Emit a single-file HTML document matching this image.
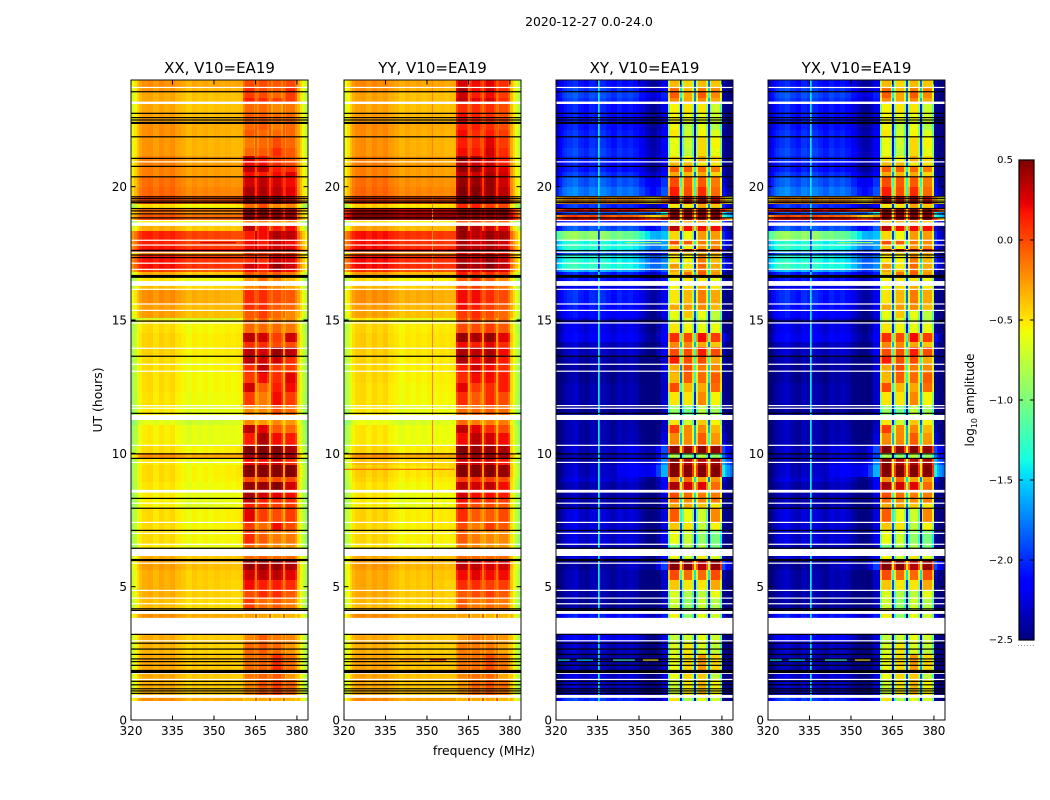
<!DOCTYPE html>
<html>
<head>
<meta charset="utf-8">
<title>2020-12-27 0.0-24.0</title>
<style>
html,body{margin:0;padding:0;background:#fff;}
svg{display:block;font-family:"DejaVu Sans","Liberation Sans",sans-serif;}
</style>
</head>
<body>
<svg id="chart" width="1050" height="800" viewBox="0 0 1050 800" xmlns="http://www.w3.org/2000/svg">
  <text x="589" y="26" font-size="12.4" text-anchor="middle" fill="#000">2020-12-27 0.0-24.0</text>
  <text x="484" y="755" font-size="12.4" text-anchor="middle" fill="#000">frequency (MHz)</text>
  <text transform="translate(102,400) rotate(-90)" font-size="12.4" text-anchor="middle" fill="#000">UT (hours)</text>
  <text transform="translate(974,400) rotate(-90)" font-size="12" text-anchor="middle" fill="#000">log<tspan font-size="8" dy="3">10</tspan><tspan dy="-3"> amplitude</tspan></text>
</svg>
<script>
// Frequency bin edges (MHz): body, then band1 gap band2 gap band3 gap band4, then outer roll-off
const freqEdges = [320,321,322,323,324,326,328,330,332,334,336,338,340,342,344,346,348,350,352,354,356,358,360.5,
  361.1,364.4,365,365.7,366.3,369.2,369.9,370.6,371.2,374.3,374.9,375.6,376.2,379.4,380,381,382,383,384];
const xTickLabels = [320,335,350,365,380];
const yTickLabels = [0,5,10,15,20];
const colorbarTicks = [0.5,0,-0.5,-1,-1.5,-2,-2.5];
// Top of each time row in UT hours; last entry closes the final row
const rowTopHours = [24,23.74,23.55,23.33,23.10,22.73,22.39,22.13,21.86,21.45,21.15,20.93,20.78,20.55,20.36,19.99,19.65,19.35,19.20,19.05,18.94,18.83,18.75,18.53,18.34,18.00,17.81,17.66,17.55,17.44,17.14,16.91,16.80,16.58,16.28,16.13,15.60,15.38,15.08,14.89,14.51,14.18,13.99,13.65,13.35,13.01,12.64,12.30,11.81,11.51,11.25,11.06,10.76,10.31,10.01,9.83,9.56,9.11,8.93,8.63,8.33,8.14,7.95,7.43,7.13,6.60,6.41,6.15,5.96,5.63,5.25,4.84,4.58,4.16,3.98,3.83,3.23,2.89,2.48,1.80,1.50,0.94,0.83,0.71];
// Each row: [left body, mid body, band1, band2, band3, band4, outer] in log10 amplitude
const xxRows = [
[-.30,-.30,0,0,-.05,0,-.30],[-.33,-.33,.10,0,-.05,.10,-.33],[-.38,-.38,.05,0,-.10,.05,-.35],[-.38,-.38,.15,.10,.05,.05,-.35],
[-.38,-.38,-.10,-.10,-.20,-.15,-.35],[-.35,-.35,-.05,-.05,-.10,-.10,-.32],[-.30,-.32,-.10,-.05,-.15,-.10,-.30],[-.30,-.34,-.05,-.10,-.10,-.10,-.30],
[-.32,-.35,-.15,-.10,0,-.10,-.30],[-.32,-.35,-.10,-.05,.10,-.05,-.30],[-.25,-.30,.30,.15,.05,-.05,-.25],[-.25,-.28,.20,.20,.10,0,-.25],
[-.25,-.28,.35,.35,.15,.10,-.25],[-.25,-.28,.20,.15,.20,.25,-.25],[-.20,-.24,.30,.35,.30,.20,-.22],[-.17,-.20,.40,.40,.35,.25,-.20],
[-.05,0,.45,.45,.45,.30,-.10],[-.55,-.50,-.10,0,-.20,-.20,-.50],[-.15,-.15,.45,.45,.40,.35,-.15],[-.20,-.20,.50,.50,.45,.40,-.20],
[-.10,-.10,.50,.50,.50,.45,-.15],[-.05,-.05,.50,.45,.45,.40,-.10],[-.60,-.60,-.15,-.10,-.20,-.20,-.55],[-.40,-.40,.35,.20,.15,.20,-.35],
[.05,0,.15,.20,.40,.35,-.10],[.05,0,.20,.15,.30,.20,-.10],[.08,.05,.20,.20,.30,.25,-.05],[.25,.25,.45,.45,.45,.45,.10],
[-.30,-.30,0,.05,.10,.05,-.30],[.10,.05,.10,.10,.30,.25,-.10],[.10,.05,.30,.20,.45,.30,-.10],[-.05,-.05,.20,.10,.30,.20,-.15],
[-.40,-.40,-.05,-.05,-.05,-.15,-.35],[-.58,-.55,-.25,-.10,-.20,-.35,-.50],[-.45,-.42,-.20,-.10,-.20,-.30,-.40],[-.30,-.35,.10,.10,0,-.05,-.30],
[-.35,-.35,.10,.10,-.05,-.10,-.32],[-.35,-.38,-.05,.05,-.10,-.20,-.35],[-.60,-.60,-.10,-.05,-.15,-.20,-.50],[-.55,-.52,-.10,-.10,-.10,-.15,-.45],
[-.52,-.50,.35,.30,.05,.30,-.40],[-.52,-.50,.10,.10,0,0,-.42],[-.52,-.50,.35,.30,.45,.35,-.42],[-.55,-.52,.35,.30,.30,.10,-.45],
[-.55,-.52,.10,.35,.05,.05,-.45],[-.55,-.55,.05,.20,.10,.25,-.45],[-.55,-.55,.30,-.05,.15,.20,-.45],[-.57,-.56,.05,-.15,.20,.05,-.47],
[-.60,-.60,-.20,-.20,0,-.10,-.50],[-.60,-.60,-.20,-.20,0,-.10,-.50],[-.70,-.65,-.20,-.25,-.20,-.25,-.55],[-.60,-.60,.35,.25,-.05,-.10,-.50],
[-.60,-.60,.15,.40,.20,.15,-.50],[-.55,-.50,.50,.50,.50,.40,-.45],[-.30,-.30,.40,.50,.50,.40,-.30],[-.58,-.58,.20,.20,.30,.10,-.50],
[-.55,-.50,.50,.50,.50,.50,-.42],[-.55,-.52,0,0,0,0,-.45],[-.58,-.55,.45,.45,.50,.30,-.48],[-.60,-.58,.40,.30,.25,.20,-.50],
[-.62,-.58,.35,.15,.10,.10,-.50],[-.62,-.58,.15,.10,.05,.05,-.50],[-.55,-.52,.25,.05,0,.05,-.48],[-.55,-.52,.05,-.10,.20,0,-.48],
[-.55,-.55,.10,-.05,-.15,-.15,-.50],[-.60,-.60,-.10,-.15,-.20,-.25,-.52],[-.60,-.60,-.10,-.15,-.20,-.25,-.52],[-.40,-.40,-.10,-.05,-.10,-.10,-.40],
[-.35,-.38,.45,.45,.45,.40,-.38],[-.40,-.42,.30,.35,.35,.25,-.40],[-.40,-.45,.20,.15,.15,.10,-.42],[-.40,-.45,0,.10,.10,-.05,-.42],
[-.45,-.48,.05,-.10,-.05,-.15,-.45],[-.45,-.48,.05,-.10,-.05,-.15,-.45],[-.30,-.30,-.30,-.30,-.35,-.35,-.35],[-.30,-.30,-.30,-.30,-.35,-.35,-.35],
[-.40,-.42,-.20,-.05,-.15,-.20,-.40],[-.42,-.45,-.10,-.05,-.10,-.25,-.42],[-.38,-.42,-.12,-.08,.10,-.12,-.40],[-.38,-.42,-.15,-.08,-.05,-.25,-.40],
[-.40,-.42,-.20,-.03,.05,-.08,-.42],[-.40,-.42,-.20,-.03,.05,-.08,-.42],[-.30,-.30,-.35,-.30,-.30,-.35,-.35]];
const yyRows = [
[-.28,-.30,.28,.20,.25,.10,-.35],[-.30,-.33,.40,.20,.30,.10,-.35],[-.36,-.38,.30,.15,.20,.05,-.38],[-.36,-.38,.35,.25,.30,.10,-.38],
[-.36,-.38,.10,.10,.10,0,-.38],[-.33,-.35,.20,.15,.10,0,-.35],[-.28,-.32,.15,.15,.10,0,-.30],[-.29,-.34,.20,.10,.15,.05,-.32],
[-.30,-.35,.15,.10,.25,.05,-.32],[-.30,-.35,.20,.15,.30,.10,-.32],[-.25,-.30,.45,.35,.30,.15,-.28],[-.25,-.28,.35,.30,.30,.15,-.25],
[-.25,-.28,.45,.45,.35,.25,-.25],[-.25,-.28,.35,.30,.40,.30,-.25],[-.20,-.24,.45,.45,.45,.30,-.22],[-.17,-.20,.50,.50,.45,.35,-.20],
[0,0,.50,.50,.50,.40,-.10],[-.50,-.45,.10,.15,.05,0,-.50],[.30,.30,.50,.50,.50,.50,.20],[.35,.35,.50,.50,.50,.50,.20],
[.45,.45,.50,.50,.50,.50,.30],[.45,.45,.50,.50,.50,.50,.30],[-.55,-.55,0,.05,-.05,-.05,-.55],[-.35,-.35,.45,.35,.30,.25,-.35],
[.10,.05,.45,.35,.45,.40,-.10],[.10,.05,.40,.30,.40,.30,-.10],[.12,.08,.40,.35,.40,.30,-.05],[.30,.30,.50,.50,.50,.50,.10],
[-.25,-.25,.20,.20,.20,.15,-.30],[.12,.08,.40,.35,.45,.30,-.10],[.12,.08,.45,.40,.50,.35,-.10],[0,-.02,.30,.25,.35,.25,-.15],
[-.35,-.35,.15,.10,.10,.05,-.35],[-.55,-.52,-.05,.05,-.05,-.20,-.50],[-.42,-.40,0,.05,-.05,-.15,-.40],[-.30,-.33,.20,.20,.10,0,-.32],
[-.34,-.35,.20,.15,.05,-.05,-.32],[-.36,-.38,.05,.10,0,-.10,-.35],[-.60,-.60,0,.05,-.05,-.10,-.50],[-.52,-.50,0,0,.05,-.05,-.45],
[-.50,-.48,.45,.40,.45,.25,-.40],[-.50,-.48,.20,.15,.25,.10,-.42],[-.50,-.48,.40,.35,.40,.20,-.42],[-.52,-.50,.40,.25,.35,.15,-.42],
[-.53,-.50,.15,.30,.20,.10,-.45],[-.53,-.52,.10,.20,.20,.15,-.45],[-.55,-.53,.25,.05,.10,.15,-.45],[-.55,-.55,.10,-.05,.10,0,-.47],
[-.58,-.58,-.10,-.10,-.05,-.10,-.50],[-.58,-.58,-.10,-.10,-.05,-.10,-.50],[-.68,-.62,-.10,-.15,-.15,-.15,-.55],[-.58,-.58,.35,.25,.10,0,-.48],
[-.58,-.58,.20,.35,.30,.20,-.48],[-.52,-.50,.50,.45,.45,.40,-.45],[-.30,-.30,.40,.45,.45,.40,-.30],[-.45,-.45,.30,.30,.30,.15,-.45],
[-.50,-.45,.50,.50,.50,.45,-.40],[-.52,-.50,.05,.10,.05,0,-.45],[-.56,-.53,.35,.30,.35,.20,-.48],[-.58,-.56,.30,.20,.20,.15,-.50],
[-.60,-.56,.20,.10,.10,.05,-.50],[-.60,-.56,.10,0,0,-.05,-.50],[-.52,-.50,.10,-.05,-.05,0,-.48],[-.53,-.50,0,-.15,.05,-.05,-.48],
[-.53,-.53,-.05,-.15,-.20,-.20,-.50],[-.58,-.58,-.15,-.20,-.25,-.25,-.52],[-.58,-.58,-.15,-.20,-.25,-.25,-.52],[-.38,-.38,-.10,-.10,-.10,-.10,-.40],
[-.33,-.35,.35,.35,.30,.30,-.36],[-.38,-.40,.20,.25,.20,.20,-.40],[-.38,-.43,.10,.10,.05,.05,-.40],[-.38,-.43,-.05,0,.05,-.05,-.42],
[-.43,-.46,-.05,-.15,-.10,-.15,-.45],[-.43,-.46,-.05,-.15,-.10,-.15,-.45],[-.28,-.28,-.30,-.30,-.35,-.35,-.35],[-.28,-.28,-.30,-.30,-.35,-.35,-.35],
[-.38,-.40,-.25,-.15,-.20,-.25,-.40],[-.40,-.43,-.15,-.15,-.15,-.30,-.42],[-.36,-.40,-.15,-.12,0,-.15,-.40],[-.36,-.40,-.20,-.12,-.10,-.30,-.40],
[-.38,-.40,-.25,-.08,-.03,-.12,-.42],[-.38,-.40,-.25,-.08,-.03,-.12,-.42],[-.28,-.28,-.35,-.30,-.30,-.35,-.35]];
const xyRows = [
[-2.08,-2.28,-.35,-.45,-.35,-.4,-2.3],[-1.98,-2.18,-.1,-.35,-.15,-.2,-2.3],[-1.93,-2.08,-.05,-.3,-.05,-.2,-2.4],[-1.98,-2.13,-.2,-.3,-.2,-.3,-2.4],
[-2.08,-2.28,-.55,-.5,-.5,-.7,-2.4],[-2.08,-2.28,-.55,-.6,-.6,-.7,-2.4],[-2.08,-2.28,-.55,-.75,-.6,-.8,-2.4],[-2.03,-2.23,-.5,-.7,-.55,-.65,-2.4],
[-2.03,-2.23,-.6,-.7,-.45,-.55,-2.4],[-1.98,-2.23,-.6,-.75,-.45,-.6,-2.4],[-2.03,-2.18,-.45,-.55,-.3,-.45,-2.35],[-2.08,-2.28,-.35,-.35,-.5,-.5,-2.35],
[-2.08,-2.28,-.05,-.05,-.1,-.15,-2.3],[-1.98,-2.18,-.3,-.35,-.3,-.45,-2.3],[-1.88,-2.03,0,-.05,-.05,-.15,-2.2],[-1.78,-1.93,.15,0,.1,-.1,-2.1],
[-.25,-.25,.4,.3,.35,.2,-.3],[-2,-2.2,-.5,-.5,-.3,-.4,-2],[.2,.2,.5,.5,.5,.5,.2],[-1.9,-1.4,.5,.5,.5,.5,-1.4],
[0,-.3,.5,.5,.5,.5,-1.2],[.3,.3,.5,.5,.5,.5,0],[-2.1,-2,-.4,-.3,-.2,-.4,-2],[-1.9,-1.9,.35,.2,.2,.2,-2.2],
[-.95,-1.6,-.45,-.55,-.25,-.25,-2],[-1.35,-1.7,0,-.05,-.15,-.2,-2],[-1.3,-1.7,-.4,-.55,-.25,-.2,-2.1],[-1.4,-1.8,.5,.5,.5,.4,-2.2],
[-1.9,-2.1,-.45,-.45,-.35,-.35,-2.2],[-1.35,-1.8,-.5,-.55,-.15,-.35,-2],[-1.3,-1.75,-.25,-.5,-.1,-.3,-2],[-1.6,-1.9,-.3,-.35,-.1,-.3,-2.2],
[-2.05,-2.1,-.4,-.15,-.05,-.25,-2.4],[-2.1,-2.15,-.55,-.5,-.5,-.6,-2.3],[-2.2,-2.25,-.55,-.45,-.3,-.5,-2.4],[-2.05,-2.25,-.5,-.35,-.15,-.3,-2.4],
[-2.1,-2.25,-.3,-.25,-.2,-.35,-2.4],[-2.15,-2.3,-.6,-.4,-.6,-.75,-2.4],[-2.3,-2.4,-.7,-.65,-.7,-.8,-2.45],[-2.25,-2.25,-.5,-.55,-.6,-.6,-2.4],
[-2.2,-2.2,.1,0,.2,.05,-2.1],[-2.35,-2.3,-.2,-.2,-.3,-.4,-2.3],[-2.35,-2.2,0,0,.15,0,-2.3],[-2.4,-2.35,.15,0,0,-.3,-2.4],
[-2.45,-2.3,-.3,0,-.15,-.2,-2.4],[-2.45,-2.35,-.35,-.05,-.1,-.05,-2.4],[-2.4,-2.35,0,-.35,-.3,-.1,-2.4],[-2.4,-2.35,-.5,-.5,-.2,-.55,-2.4],
[-2.45,-2.4,-.9,-1,-.75,-.85,-2.45],[-2.45,-2.4,-.9,-1,-.75,-.85,-2.45],[-2.4,-2.4,-.5,-.7,-.4,-.55,-2.4],[-2.4,-2.35,.05,-.2,-.2,-.35,-2.3],
[-2.4,-2.3,-.2,-.2,-.05,-.25,-2.2],[-2.35,-1.95,.5,.45,.5,.45,-1.9],[-2.4,-2,-.8,-.9,-.75,-.9,-1.8],[-2.4,-1.8,.5,.35,.35,.4,-1.6],
[-2.35,-1.65,.5,.5,.5,.5,-1.4],[-2.3,-2.2,-.2,-.1,-.3,-.25,-2.2],[-2.4,-2.2,.4,.3,.25,-.1,-2.3],[-2.4,-2.3,0,-.1,-.15,-.15,-2.4],
[-2.4,-2.35,-.1,-.2,-.2,-.15,-2.4],[-2.4,-2.35,-.3,-.3,-.4,-.5,-2.4],[-2.3,-2.3,-.05,-.6,-.7,-.2,-2.4],[-2.3,-2.3,-.4,-.5,-.75,-.55,-2.4],
[-2.3,-2.25,-.6,-.7,-.9,-1,-2.4],[-2.4,-2.4,-1,-.8,-.8,-1,-2.45],[-2.4,-2.4,-1,-.8,-.8,-1,-2.45],[-2.3,-2.2,-.55,-.7,-.5,-.65,-2.3],
[-2.45,-2,.5,.5,.35,.45,-1.9],[-2.4,-2.35,0,-.1,-.1,0,-2.3],[-2.4,-2.35,-.4,-.5,-.5,-.3,-2.4],[-2.4,-2.4,-.65,-.8,-.75,-.6,-2.45],
[-2.45,-2.4,-.7,-.9,-.7,-.8,-2.45],[-2.45,-2.4,-.7,-.9,-.7,-.8,-2.45],[-2.1,-2.1,-.55,-.9,-.6,-.7,-2.2],[-2.1,-2.1,-.55,-.9,-.6,-.7,-2.2],
[-2.2,-2.3,-.75,-.7,-.6,-.7,-2.4],[-2.35,-2.35,-.65,-.5,-.65,-.75,-2.45],[-2.4,-2.4,-.6,-.45,-.25,-.45,-2.45],[-2.3,-2.3,-.6,-.45,-.4,-.75,-2.4],
[-2.35,-2.35,-.7,-.5,-.35,-.55,-2.4],[-2.35,-2.35,-.7,-.5,-.35,-.55,-2.4],[-2,-2.2,-.5,-.8,-.6,-.7,-2.4]];
const yxRows = xyRows;
// Per-column ripple across the body bins, by polarisation kind
const parallelRipple = [-.30,-.20,-.08,.02,.08,.10,.04,.10,.06,.10,.03,0,-.05,0,-.03,0,-.03,0,-.02,0,-.02,0];
const crossRipple = [-.25,-.15,-.05,0,.05,.1,0,-.05,.05,0,.05,0,-.05,.05,0,.05,0,-.1,-.2,-.25,-.15,.05];
const bodyMix = [0,0,0,0,0,0,0,0,0,0,0,.05,.1,.15,.2,.25,.3,.35,.45,.6,.8,1];
const parallelOuter = [0,-.15,-.3,-.45];
const crossOuter = [0,-.2,-.3,-.4];
// Flagged times: thin lines (hour centres) and thick bands ([top,bottom] hours)
const blackLineHours = [23.56,22.75,22.59,22.50,21.87,21.06,20.76,20.37,19.62,19.55,19.46,19.40,19.18,19.09,18.98,18.83,17.60,17.44,17.34,14.96,13.64,11.50,9.98,9.81,8.31,7.94,7.11,6.44,4.17,4.11,3.21,2.88,2.66,2.46,2.29,2.19,2.05,1.45,1.32,1.17,1.09,1.00];
const blackBands = [[22.43,22.35],[6.04,5.96],[16.69,16.58],[1.88,1.76]];
const whiteLineHours = [23.72,20.93,18.73,17.99,17.81,17.54,17.13,16.90,16.15,15.60,15.36,14.89,13.94,13.34,13.08,11.79,11.69,10.30,9.66,8.55,8.13,7.41,7.00,6.59,5.88,4.86,4.57,4.36,2.97,1.75,1.52];
const whiteBands = [[23.19,23.10],[18.66,18.53],[16.46,16.28],[11.44,11.25],[8.63,8.57],[6.42,6.15],[4.10,3.98],[3.83,3.23],[.94,.83]];
// Narrow-band channels: [freq0, freq1, topHour, bottomHour, value]
const xxChannels = [];
const yyChannels = [[351.8,352.2,24,3.9,-.2]];
const xyChannels = [[335.2,335.8,24,18.4,-1.42],[335.2,335.8,18.4,16.8,-2.05],[335.2,335.8,16.8,.71,-1.42]];
const yxChannels = [[335.2,335.8,24,18.4,-1.42],[335.2,335.8,18.4,16.8,-2.05],[335.2,335.8,16.8,.71,-1.42]];
// Interference streaks: [hour, freq0, freq1, value]
const xxStreaks = [[15.05,320,358,-.75],[17.9,345,358,.3]];
const yyStreaks = [[2.25,351,357,.3],[2.25,340,349,-.1],[9.4,320,360,-.1]];
const xyStreaks = [[2.25,320.7,325,-1.4],[2.25,327.5,333.4,-1.45],[2.25,340.6,348.5,-1.2],[2.25,351.4,357,-.5],[17.9,345,358,-.9]];
const yxStreaks = [[2.25,320.7,325,-1.4],[2.25,327.5,333.4,-1.45],[2.25,340.6,348.5,-1.2],[2.25,351.4,357,-.5],[17.9,345,358,-.9]];

const NS = 'http://www.w3.org/2000/svg';
const svg = document.getElementById('chart');
const panels = [
  {id:'xx',title:'XX, V10=EA19',rows:xxRows,kind:'parallel',left:131,channels:xxChannels,streaks:xxStreaks},
  {id:'yy',title:'YY, V10=EA19',rows:yyRows,kind:'parallel',left:344,channels:yyChannels,streaks:yyStreaks},
  {id:'xy',title:'XY, V10=EA19',rows:xyRows,kind:'cross',left:556,channels:xyChannels,streaks:xyStreaks},
  {id:'yx',title:'YX, V10=EA19',rows:yxRows,kind:'cross',left:768,channels:yxChannels,streaks:yxStreaks}
];
const plotW = 177, plotTop = 80, plotBottom = 720;
function yOf(h){ return plotBottom - (h/24)*(plotBottom-plotTop); }
function xOf(left,f){ return left + (f-320)/(384-320)*plotW; }
function seg(t,pts){
  for(let i=1;i<pts.length;i++){
    if(t<=pts[i][0]){
      const a=pts[i-1],b=pts[i];
      return a[1]+(b[1]-a[1])*(t-a[0])/(b[0]-a[0]);
    }
  }
  return pts[pts.length-1][1];
}
function jet(v){
  const t=Math.max(0,Math.min(1,(v+2.5)/3));
  const r=seg(t,[[0,0],[.35,0],[.66,1],[.89,1],[1,.5]]);
  const g=seg(t,[[0,0],[.125,0],[.375,1],[.64,1],[.91,0],[1,0]]);
  const b=seg(t,[[0,.5],[.11,1],[.34,1],[.65,0],[1,0]]);
  return 'rgb('+Math.round(r*255)+','+Math.round(g*255)+','+Math.round(b*255)+')';
}
function el(tag,attrs,parent){
  const n=document.createElementNS(NS,tag);
  for(const k in attrs){ n.setAttribute(k,attrs[k]); }
  parent.appendChild(n);
  return n;
}
function cellValue(row,kind,c){
  const bodyBins=bodyMix.length;
  const ripple=kind==='parallel'?parallelRipple:crossRipple;
  if(c<bodyBins){
    return row[0]*(1-bodyMix[c])+row[1]*bodyMix[c]+ripple[c];
  }
  const k=c-bodyBins;
  if(k>=15){
    const prof=kind==='parallel'?parallelOuter:crossOuter;
    return row[6]+prof[k-15];
  }
  const band=Math.floor(k/4);
  const pos=k%4;
  const b=row[2+band];
  if(pos===3){
    return kind==='parallel'?row[0]+.25:b*1.5-1.3;
  }
  if(pos===1){ return b; }
  return b+(kind==='parallel'?-.12:-.42);
}
panels.forEach(function(p){
  const g=el('g',{},svg);
  
  
  const clipId='clip-'+p.id;
  const defs=el('defs',{},g);
  const clip=el('clipPath',{id:clipId},defs);
  el('rect',{x:p.left,y:plotTop,width:plotW,height:plotBottom-plotTop},clip);
  const heat=el('g',{'clip-path':'url(#'+clipId+')'},g);
  
  
  const frag=document.createDocumentFragment();
  for(let r=0;r<p.rows.length;r++){
    const y0=Math.round(yOf(rowTopHours[r]));
    const y1=Math.round(yOf(rowTopHours[r+1]));
    for(let c=0;c<freqEdges.length-1;c++){
      const x0=Math.round(xOf(p.left,freqEdges[c]));
      const x1=Math.round(xOf(p.left,freqEdges[c+1]));
      if(x1<=x0) continue;
      const cell=el('rect',{x:x0,y:y0,width:x1-x0,height:y1-y0,fill:jet(cellValue(p.rows[r],p.kind,c)),'shape-rendering':'crispEdges'},frag);
      
      
    }
  }
  p.channels.forEach(function(ch){
    const x0=xOf(p.left,ch[0]);
    const line=el('rect',{x:x0,y:yOf(ch[2]),width:xOf(p.left,ch[1])-x0,height:yOf(ch[3])-yOf(ch[2]),fill:jet(ch[4])},frag);
    
    
  });
  p.streaks.forEach(function(s){
    const x0=xOf(p.left,s[1]);
    const st=el('rect',{x:x0,y:yOf(s[0])-.6,width:xOf(p.left,s[2])-x0,height:1.2,fill:jet(s[3])},frag);
    
    
  });
  whiteBands.forEach(function(b){
    const w=el('rect',{x:p.left,y:yOf(b[0]),width:plotW,height:yOf(b[1])-yOf(b[0]),fill:'#fff'},frag);
    
    
  });
  whiteLineHours.forEach(function(h){
    const w=el('rect',{x:p.left,y:yOf(h)-.6,width:plotW,height:1.2,fill:'#fff'},frag);
    
    
  });
  blackBands.forEach(function(b){
    const k=el('rect',{x:p.left,y:yOf(b[0]),width:plotW,height:yOf(b[1])-yOf(b[0]),fill:'#000'},frag);
    
    
  });
  blackLineHours.forEach(function(h){
    const k=el('rect',{x:p.left,y:yOf(h)-.6,width:plotW,height:1.2,fill:'#000'},frag);
    
    
  });
  heat.appendChild(frag);
  const frame=el('rect',{x:p.left,y:plotTop,width:plotW,height:plotBottom-plotTop,fill:'none',stroke:'#111','stroke-width':1},g);
  
  
  const title=el('text',{x:p.left+plotW/2,y:73,'font-size':15,'text-anchor':'middle',fill:'#000'},g);
  title.textContent=p.title;
  
  
  xTickLabels.forEach(function(f){
    const x=xOf(p.left,f);
    const t1=el('line',{x1:x,x2:x,y1:plotBottom,y2:plotBottom-4.5,stroke:'#000','stroke-width':1},g);
    
    
    const t2=el('line',{x1:x,x2:x,y1:plotTop,y2:plotTop+4.5,stroke:'#000','stroke-width':1},g);
    
    
    const lab=el('text',{x:x,y:735,'font-size':12,'text-anchor':'middle',fill:'#000'},g);
    lab.textContent=String(f);
    
    
  });
  yTickLabels.forEach(function(h){
    const y=yOf(h);
    const t1=el('line',{x1:p.left,x2:p.left+4.5,y1:y,y2:y,stroke:'#000','stroke-width':1},g);
    
    
    const t2=el('line',{x1:p.left+plotW,x2:p.left+plotW-4.5,y1:y,y2:y,stroke:'#000','stroke-width':1},g);
    
    
    const lab=el('text',{x:p.left-4,y:y+4.5,'font-size':12,'text-anchor':'end',fill:'#000'},g);
    lab.textContent=String(h);
    
    
  });
});
// Colorbar
const cbLeft=1019,cbW=15,cbTop=160,cbBottom=640;
const cb=el('g',{},svg);


function cbY(v){ return cbBottom-(v+2.5)/3*(cbBottom-cbTop); }
for(let y=cbTop;y<cbBottom;y+=2){
  const s=el('rect',{x:cbLeft,y:y,width:cbW,height:2,fill:jet(.5-(y+1-cbTop)/(cbBottom-cbTop)*3),'shape-rendering':'crispEdges'},cb);
  
  
}
const cbFrame=el('rect',{x:cbLeft,y:cbTop,width:cbW,height:cbBottom-cbTop,fill:'none',stroke:'#000','stroke-width':1.2},cb);


colorbarTicks.forEach(function(v){
  const y=cbY(v);
  const l=el('line',{x1:cbLeft,x2:cbLeft+4,y1:y,y2:y,stroke:'#000','stroke-width':1},cb);
  
  
  const r=el('line',{x1:cbLeft+cbW,x2:cbLeft+cbW-4,y1:y,y2:y,stroke:'#000','stroke-width':1},cb);
  
  
  const lab=el('text',{x:1013,y:y+(v===0.5?3:v===-2.5?3:3.5),'font-size':10,'text-anchor':'end',fill:'#000'},cb);
  lab.textContent=(v<0?'\u2212':'')+Math.abs(v).toFixed(1);
  
  
});
const dots=el('line',{x1:1018,x2:1034,y1:645.5,y2:645.5,stroke:'#999','stroke-width':1,'stroke-dasharray':'1 2'},cb);


</script>
</body>
</html>
